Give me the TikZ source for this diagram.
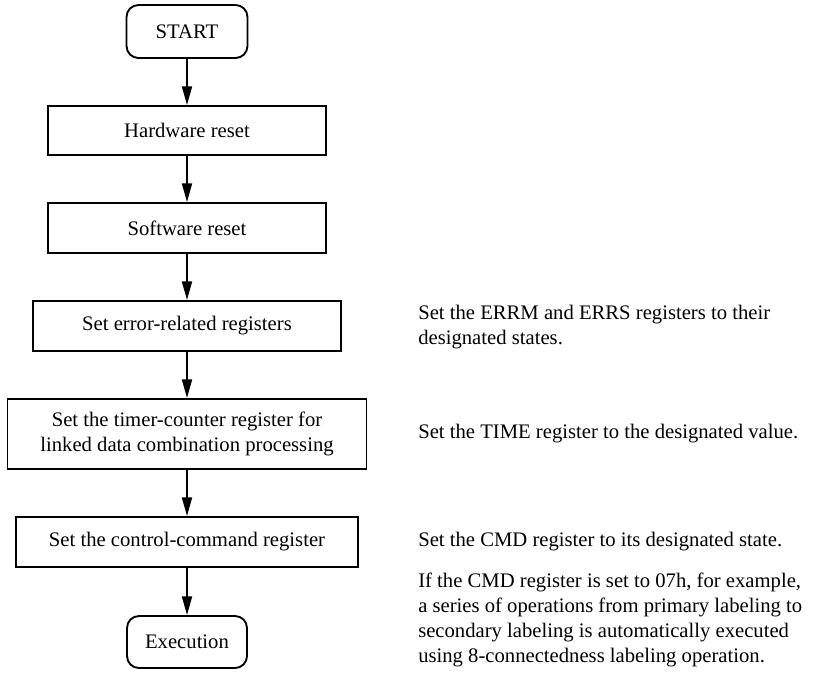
\documentclass[tikz,border=0pt]{standalone}
\usepackage{fontspec}
\setmainfont{Liberation Serif}
\usetikzlibrary{arrows.meta}
\begin{document}
\begin{tikzpicture}[x=0.75pt,y=-0.75pt,
  every node/.style={font=\fontsize{15.5pt}{18.75pt}\selectfont},
  box/.style={draw, line width=1.4pt, inner sep=0pt, align=center},
  term/.style={box, rounded corners=9pt},
  note/.style={anchor=west, align=left, inner sep=0pt},
  flow/.style={line width=1.4pt, -{Triangle[length=14pt,width=7.5pt]}}]
\useasboundingbox (0,0) rectangle (814,683);
\node[term, minimum width=90.75pt, minimum height=39.75pt] (start) at (187,31.5) {START};
\node[box, minimum width=208.5pt, minimum height=36.75pt] (hw) at (187,130.5) {Hardware reset};
\node[box, minimum width=208.5pt, minimum height=37.5pt] (sw) at (187,228) {Software reset};
\node[box, minimum width=231pt, minimum height=37.5pt] (err) at (187,326) {Set error-related registers};
\node[box, minimum width=269.25pt, minimum height=52.5pt] (tim) at (187,434) {Set the timer-counter register for\\linked data combination processing};
\node[box, minimum width=256.5pt, minimum height=37.5pt] (ctl) at (187,542) {Set the control-command register};
\node[term, minimum width=90pt, minimum height=39pt] (exe) at (187,642) {Execution};
\draw[flow] (start) -- (hw);
\draw[flow] (hw) -- (sw);
\draw[flow] (sw) -- (err);
\draw[flow] (err) -- (tim);
\draw[flow] (tim) -- (ctl);
\draw[flow] (ctl) -- (exe);
\node[note] (n1) at (418,327) {Set the ERRM and ERRS registers to their\\designated states.};
\node[note] (n2) at (418,434) {Set the TIME register to the designated value.};
\node[note] (n3) at (418,542) {Set the CMD register to its designated state.};
\node[note] (n4) at (418,619.5) {If the CMD register is set to 07h, for example,\\a series of operations from primary labeling to\\secondary labeling is automatically executed\\using 8-connectedness labeling operation.};
\end{tikzpicture}
\end{document}
